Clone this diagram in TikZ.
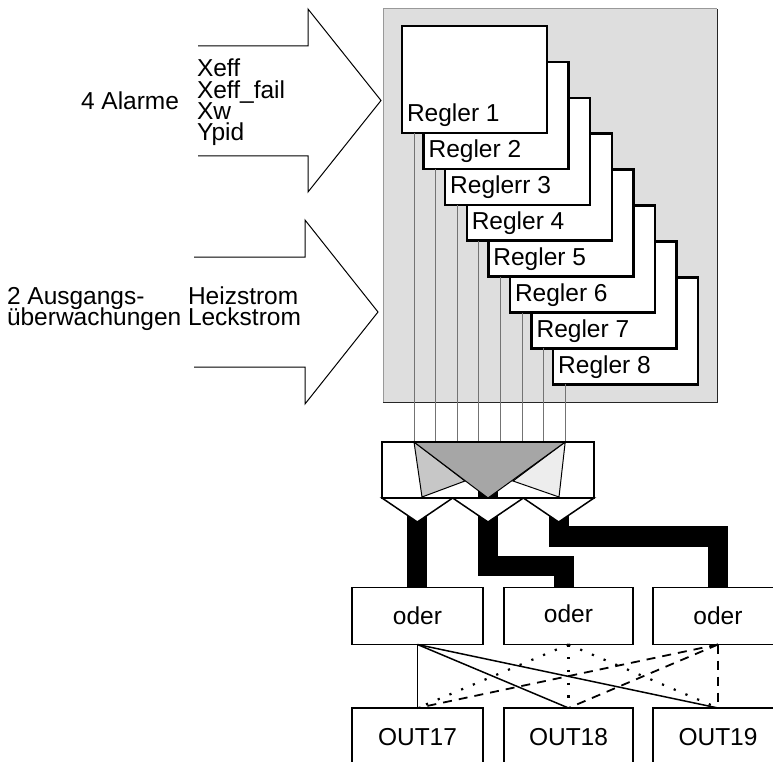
\documentclass[tikz,border=0pt]{standalone}
\usepackage{fontspec}
\setmainfont{Liberation Sans}
\usetikzlibrary
  {
    calc,        % coordinate arithmetic
    positioning, % place nodes relative to other nodes
  }

\begin{document}
\begin{tikzpicture}
  [x=1pt, y=1pt,
   every node/.style={font=\fontsize{24.5}{26}\selectfont, inner sep=0pt, outer sep=0pt},
   regler/.style={draw, line width=2.5pt, fill=white, minimum width=145pt, minimum height=107pt},
   oderbox/.style={draw, line width=1.3pt, fill=white, minimum width=130pt, minimum height=57pt},
   outbox/.style={draw, line width=1.3pt, fill=white, minimum width=130pt, minimum height=58pt},
   feed/.style={black!55, line width=0.8pt},
   bus/.style={line width=20.5pt, line join=miter},
   funnel/.style={draw, line width=1.5pt, fill=white, line join=miter},
   link/.style={line width=1.5pt},
   dotlink/.style={line width=2.2pt, dash pattern=on 2.2pt off 10.5pt},
   dashlink/.style={line width=1.8pt, dash pattern=on 9pt off 7pt},
   bigarrow/.style={line width=1pt, line join=miter},
  ]
  \useasboundingbox (0,0) rectangle (773,-762);

  % grey area behind the controllers
  \fill[black!13] (383,-9) rectangle (717,-402);
  \draw[black!40, line width=1pt] (383,-402) -- (383,-9) -- (717,-9);
  \draw[black!85, line width=1pt] (717,-9) -- (717,-402) -- (383,-402);

  % controllers, the last one first so that Regler 1 lies on top
  \foreach \i/\txt in {8/Regler 8, 7/Regler 7, 6/Regler 6, 5/Regler 5,
                       4/Regler 4, 3/Reglerr 3, 2/Regler 2, 1/Regler 1}
  {
    \node[regler] (r\i) at ({474.5+21.6*(\i-1)}, {-79.5-35.9*(\i-1)}) {};
    \node[anchor=base west] (t\i) at ($(r\i.south west)+(5,11)$) {\txt};
  }

  \node[fill=white, minimum width=212pt, minimum height=56pt] (merge) at (488,-470) {};

  \foreach \i in {1,...,8}
  {
    \coordinate (f\i) at ($(r\i.south west)+(12,0)$);
    \draw[feed] (f\i) -- (f\i |- merge.north);
  }

  % or gates and outputs
  \node[oderbox, minimum width=131pt] (or1) at (417.5,-616) {oder};
  \node[oderbox, minimum width=129pt, right=21pt of or1] (or2) {\raisebox{4pt}{oder}};
  \node[oderbox, right=20pt of or2] (or3) {oder};
  \node[outbox, minimum width=131pt, below=63.5pt of or1] (o17) {OUT17};
  \node[outbox, minimum width=129pt, below=63.5pt of or2] (o18) {OUT18};
  \node[outbox, below=63.5pt of or3] (o19) {OUT19};

  % thick buses
  \coordinate (b1) at (417,-505);
  \coordinate (b2) at (488,-487);
  \coordinate (b3) at (559,-505);
  \coordinate (k2) at (564,-566);
  \coordinate (k3) at (718,-536.5);
  \draw[bus] (b1) -- (b1 |- or1.north);
  \draw[bus] (b2) |- (k2) -- (k2 |- or2.north);
  \draw[bus] (b3) |- (k3) -- (or3.north);

  % merging of the eight controllers
  \coordinate (m1) at (f1 |- merge.north);
  \coordinate (m8) at (f8 |- merge.north);
  \filldraw[fill=black!22, line width=1pt] (m1) -- (422,-497) -- (465,-481) -- cycle;
  \filldraw[fill=black!7, line width=1pt] (m8) -- (559,-497) -- (513,-481) -- cycle;
  \filldraw[fill=black!35, line width=1pt] (m1) -- (m8) -- (merge.south) -- cycle;
  \draw[line width=2.5pt] (merge.south west) rectangle (merge.north east);

  \foreach \k in {0,1,2}
    \filldraw[funnel] ($(merge.south west)+({70.67*\k},0)$) -- ++(70.67,0) -- ++(-35.33,-24) -- cycle;

  % links from the or gates to the outputs
  \draw[link] (or1.south) -- (o17.north);
  \draw[link] (or1.south) -- (o18.north);
  \draw[link] (or1.south) -- (o19.north);
  \draw[dotlink] (or2.south) -- (o17.north);
  \draw[dotlink] (or2.south) -- (o18.north);
  \draw[dotlink] (or2.south) -- (o19.north);
  \draw[dashlink] (or3.south) -- (o17.north);
  \draw[dashlink] (or3.south) -- (o18.north);
  \draw[dashlink, line width=2.8pt] (or3.south) -- (o19.north);

  % inputs on the left
  \draw[bigarrow] (198,-46) -- (308,-46) -- (308,-9) -- (381,-100.5)
    -- (308,-192) -- (308,-156) -- (198,-156);
  \draw[bigarrow] (194,-257) -- (305,-257) -- (305,-220) -- (378,-312)
    -- (305,-404) -- (305,-367) -- (194,-367);

  \node[anchor=base west] (alarme) at (81,-110) {4 Alarme};
  \foreach \j/\sig in {0/Xeff, 1/Xeff\_fail, 2/Xw, 3/Ypid}
    \node[anchor=base west] (sig\j) at (197,{-77-21.2*\j}) {\sig};

  \node[anchor=base west] (ausg1) at (7,-304) {2 Ausgangs-};
  \node[anchor=base west] (ausg2) at (7,-325) {überwachungen};
  \node[anchor=base west] (heiz) at (188,-304) {Heizstrom};
  \node[anchor=base west] (leck) at (188,-325) {Leckstrom};
\end{tikzpicture}
\end{document}
